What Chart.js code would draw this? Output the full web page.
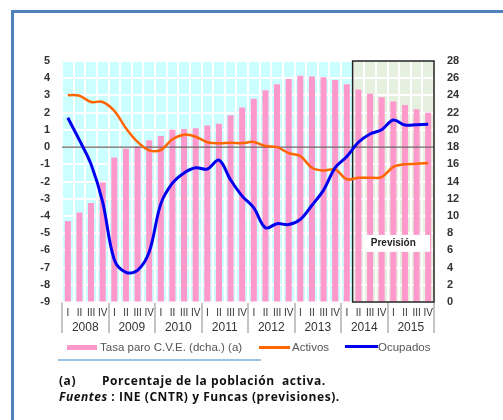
<!DOCTYPE html>
<html>
<head>
<meta charset="utf-8">
<script src="https://cdn.jsdelivr.net/npm/chart.js@4.4.0/dist/chart.umd.min.js"></script>
<style>
  body { margin: 0; background: #fff; }
  #wrap { position: relative; width: 503px; height: 420px; overflow: hidden; font-family: 'Liberation Sans', Arial, sans-serif; }
  canvas { position: absolute; left: 0; top: 0; }
  .frame { position: absolute; left: 11px; top: 10px; width: 600px; height: 500px; border: 3px solid #4f81bd; }
  .lg { position: absolute; font-size: 11.5px; line-height: 14px; color: #555; white-space: nowrap; }
  .sw { position: absolute; }
  .nota { position: absolute; font-family: 'Open Sans', sans-serif; font-weight: 700; font-size: 12px; letter-spacing: 0.55px; line-height: 16px; color: #111; white-space: nowrap; }
</style>
</head>
<body>
<div id="wrap">
  <canvas id="grafico" width="503" height="420"></canvas>
  <div class="frame"></div>

  <!-- leyenda -->
  <div class="sw" style="left:67px;top:345px;width:30px;height:5px;background:#ff99cc"></div>
  <div class="lg" style="left:100px;top:340px">Tasa paro C.V.E. (dcha.) (a)</div>
  <div class="sw" style="left:259px;top:346px;width:31px;height:3px;background:#ff6600"></div>
  <div class="lg" style="left:292px;top:340px">Activos</div>
  <div class="sw" style="left:345px;top:345px;width:33px;height:3px;background:#0000ee"></div>
  <div class="lg" style="left:378px;top:340px">Ocupados</div>

  <div class="sw" style="left:58px;top:359px;width:203px;height:2px;background:#9cc2e5"></div>

  <div class="nota" style="left:59px;top:373px">(a)</div>
  <div class="nota" style="left:102px;top:373px">Porcentaje de la población&nbsp; activa.</div>
  <div class="nota" style="left:59px;top:389px"><i>Fuentes</i> : INE (CNTR) y Funcas (previsiones).</div>
</div>

<script>
// trimestres 2008-2015
var trimestres = ['I','II','III','IV','I','II','III','IV','I','II','III','IV','I','II','III','IV',
                  'I','II','III','IV','I','II','III','IV','I','II','III','IV','I','II','III','IV'];
var anios = ['2008','2009','2010','2011','2012','2013','2014','2015'];

// tasa de paro (eje dcho.)
var tasaParo = [9.4, 10.4, 11.5, 13.9, 16.8, 17.8, 18.1, 18.8,
                19.3, 20.0, 20.1, 20.2, 20.5, 20.7, 21.7, 22.6,
                23.6, 24.6, 25.3, 25.9, 26.3, 26.2, 26.1, 25.8,
                25.3, 24.7, 24.2, 23.8, 23.3, 22.9, 22.4, 22.0];
// variacion interanual (eje izq.)
var activos = [3.02, 2.98, 2.62, 2.62, 2.1, 1.1, 0.3, -0.19,
               -0.17, 0.45, 0.72, 0.6, 0.28, 0.22, 0.25, 0.23,
               0.3, 0.06, 0.0, -0.35, -0.52, -1.2, -1.36, -1.3,
               -1.87, -1.78, -1.78, -1.74, -1.15, -1.0, -0.97, -0.92];
var ocupados = [1.7, 0.4, -1.0, -3.2, -6.55, -7.28, -7.16, -6.1,
                -3.3, -2.1, -1.5, -1.2, -1.28, -0.76, -1.9, -2.85,
                -3.53, -4.69, -4.45, -4.5, -4.2, -3.38, -2.5, -1.2,
                -0.55, 0.28, 0.76, 1.01, 1.57, 1.28, 1.3, 1.32];
var inicioPrevision = 25; // primer trimestre previsto (2014 II)

var fondo = {
  id: 'fondo',
  beforeDraw: function(chart) {
    var a = chart.chartArea, c = chart.ctx, x = chart.scales.x;
    var xf = (x.getPixelForValue(inicioPrevision - 1) + x.getPixelForValue(inicioPrevision)) / 2;
    c.save();
    c.fillStyle = '#ccffff';
    c.fillRect(a.left, a.top, xf - a.left, a.bottom - a.top);
    c.fillStyle = '#e6f0df';
    c.fillRect(xf, a.top, a.right - xf, a.bottom - a.top);
    c.restore();
  },
  afterDatasetDraw: function(chart, args) {
    if (args.meta.type !== 'bar') return;
    var a = chart.chartArea, c = chart.ctx, x = chart.scales.x, y = chart.scales.y;
    var xf = (x.getPixelForValue(inicioPrevision - 1) + x.getPixelForValue(inicioPrevision)) / 2;
    var y0 = y.getPixelForValue(0);
    c.save();
    // linea de cero
    c.strokeStyle = '#666';
    c.lineWidth = 1.2;
    c.beginPath();
    c.moveTo(a.left, y0);
    c.lineTo(a.right, y0);
    c.stroke();
    // recuadro de prevision
    c.strokeStyle = '#222';
    c.lineWidth = 1.5;
    c.strokeRect(xf, a.top, a.right - xf, a.bottom - a.top);
    // etiqueta
    var bx = xf + 10, by = y.getPixelForValue(-5.1);
    c.fillStyle = '#fff';
    c.fillRect(bx, by, a.right - 4 - bx, 17);
    c.fillStyle = '#222';
    c.font = 'bold 10px "Liberation Sans", Arial, sans-serif';
    c.textAlign = 'center';
    c.textBaseline = 'middle';
    c.fillText('Previsión', (bx + a.right - 4) / 2 - 3, by + 8.5);
    c.restore();
  }
};

var ctx = document.getElementById('grafico');
var chart = new Chart(ctx, {
  type: 'bar',
  data: {
    labels: trimestres,
    datasets: [
      {
        type: 'line',
        label: 'Ocupados',
        data: ocupados,
        borderColor: '#0000ee',
        borderWidth: 3,
        pointRadius: 0,
        tension: 0.35,
        yAxisID: 'y',
        order: 0
      },
      {
        type: 'line',
        label: 'Activos',
        data: activos,
        borderColor: '#ff6600',
        borderWidth: 2.5,
        pointRadius: 0,
        tension: 0.35,
        yAxisID: 'y',
        order: 1
      },
      {
        type: 'bar',
        label: 'Tasa paro C.V.E. (dcha.) (a)',
        data: tasaParo,
        backgroundColor: '#ff99cc',
        barPercentage: 0.52,
        categoryPercentage: 1,
        yAxisID: 'y2',
        order: 2
      }
    ]
  },
  options: {
    responsive: false,
    animation: false,
    layout: { padding: { left: 30, right: 39, top: 61, bottom: 85 } },
    plugins: {
      legend: { display: false },
      tooltip: { enabled: false }
    },
    scales: {
      x: {
        offset: true,
        grid: {
          offset: true,
          color: '#ffffff',
          lineWidth: 2,
          tickLength: 31,
          tickWidth: 2,
          tickColor: function(c) {
            return (c.index === undefined || c.index % 4 === 0) ? '#c4c4c4' : 'rgba(0,0,0,0)';
          }
        },
        border: { display: false },
        ticks: {
          autoSkip: false,
          maxRotation: 0,
          padding: -26,
          color: '#333',
          font: { family: 'Liberation Sans', size: 10 }
        },
        afterFit: function(s) { s.height = 17; }
      },
      x2: {
        type: 'category',
        labels: anios,
        position: 'bottom',
        offset: true,
        weight: 1,
        grid: { display: false, drawTicks: false },
        border: { display: false },
        ticks: {
          padding: 1,
          color: '#333',
          font: { family: 'Liberation Sans', size: 12 }
        },
        afterFit: function(s) { s.height = 16; }
      },
      y: {
        position: 'left',
        min: -9,
        max: 5,
        grid: { color: '#ffffff', lineWidth: 2, drawTicks: false },
        border: { display: false },
        ticks: {
          stepSize: 1,
          padding: 12,
          color: '#333',
          font: { family: 'Liberation Sans', size: 11, weight: 'bold' }
        },
        afterFit: function(s) { s.width = 32; }
      },
      y2: {
        position: 'right',
        min: 0,
        max: 28,
        grid: { drawOnChartArea: false, drawTicks: false },
        border: { display: false },
        ticks: {
          stepSize: 2,
          padding: 13,
          color: '#333',
          font: { family: 'Liberation Sans', size: 11, weight: 'bold' }
        },
        afterFit: function(s) { s.width = 30; }
      }
    }
  },
  plugins: [fondo]
});
</script>
</body>
</html>
